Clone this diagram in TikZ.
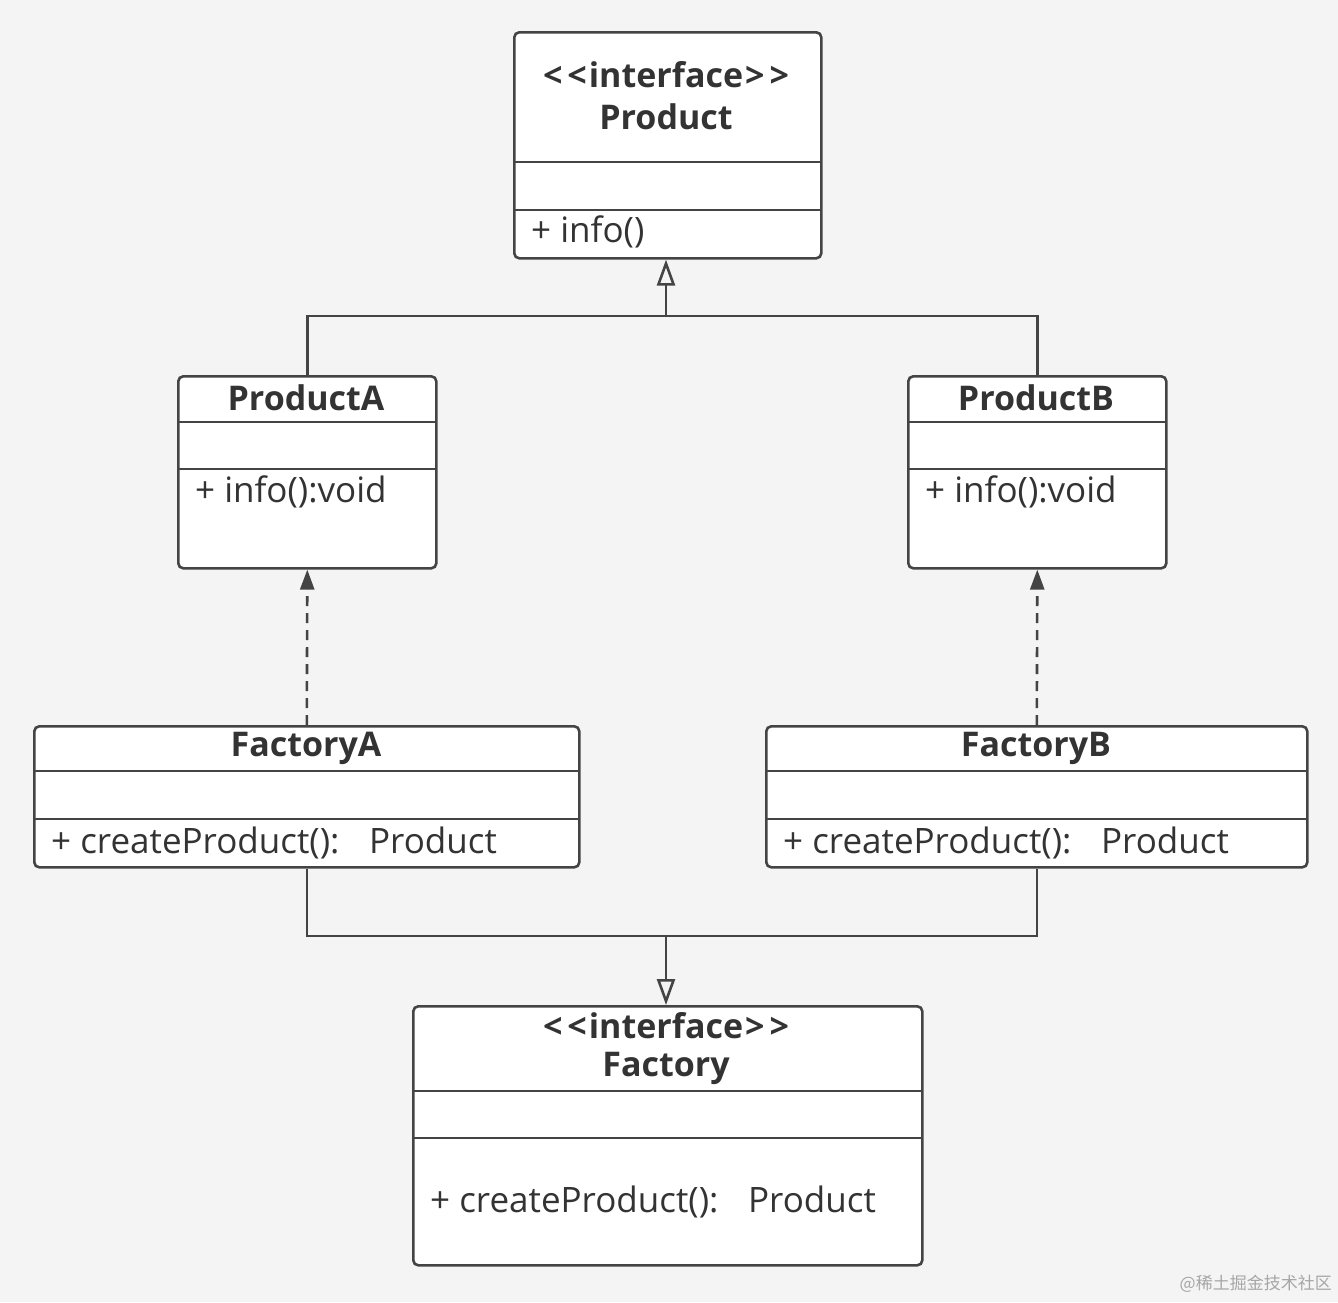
\documentclass[tikz,border=0pt]{standalone}
\usepackage{fontspec}
\setmainfont{Open Sans}
\newfontfamily\cjk{Noto Sans CJK SC}
\usetikzlibrary{arrows.meta,calc}
\definecolor{bg}{HTML}{F4F4F4}
\definecolor{ln}{HTML}{444444}
\definecolor{tx}{HTML}{333333}
\newcommand{\stereo}{{<}\kern5pt{<}\kern2pt interface\kern2pt{>}\kern5pt{>}}
\newcommand{\colgap}{:\hspace{0.85em}}
\tikzset{
  classbox/.style={draw=ln, line width=2.6pt, fill=white, rounded corners=5pt, anchor=north west, inner sep=0pt},
  divider/.style={draw=ln, line width=2.6pt},
  title/.style={text=tx, font=\fontsize{34}{40}\selectfont\bfseries, inner sep=0pt},
  member/.style={text=tx, font=\fontsize{35}{40}\selectfont, inner sep=0pt, anchor=west},
  conn/.style={draw=ln, line width=2.6pt},
  gen/.style={conn, -{Triangle[open, length=26pt, width=18pt, line width=2.6pt]}},
  real/.style={conn, dash pattern=on 10pt off 7pt, -{Triangle[length=20pt, width=14pt]}},
}
\begin{document}
\begin{tikzpicture}[x=1pt, y=-1pt]
\fill[bg] (0,0) rectangle (1338,1302);
\useasboundingbox (0,0) rectangle (1338,1302);

% Product interface
\node[classbox, minimum width=307pt, minimum height=226pt] (prod) at (513,31) {};
\draw[divider] (513,162) -- (820,162);
\draw[divider] (513,210) -- (820,210);
\node[title] (prodS) at (666,75) {\stereo};
\node[title] (prodT) at (666,117) {Product};
\node[member] (prodM) at (531,232) {+ info()};

% ProductA
\node[classbox, minimum width=258pt, minimum height=192pt] (pa) at (177,375) {};
\draw[divider] (177,422) -- (435,422);
\draw[divider] (177,469) -- (435,469);
\node[title] (paT) at (306,398) {ProductA};
\node[member] (paM) at (195,492) {+ info():void};

% ProductB
\node[classbox, minimum width=258pt, minimum height=192pt] (pb) at (907,375) {};
\draw[divider] (907,422) -- (1165,422);
\draw[divider] (907,469) -- (1165,469);
\node[title] (pbT) at (1036,398) {ProductB};
\node[member] (pbM) at (925,492) {+ info():void};

% FactoryA
\node[classbox, minimum width=545pt, minimum height=141pt] (fa) at (33,725) {};
\draw[divider] (33,771) -- (578,771);
\draw[divider] (33,819) -- (578,819);
\node[title] (faT) at (306,748) {FactoryA};
\node[member] (faM) at (51,843) {+ createProduct()\colgap Product};

% FactoryB
\node[classbox, minimum width=541pt, minimum height=141pt] (fb) at (765,725) {};
\draw[divider] (765,771) -- (1306,771);
\draw[divider] (765,819) -- (1306,819);
\node[title] (fbT) at (1036,748) {FactoryB};
\node[member] (fbM) at (783,843) {+ createProduct()\colgap Product};

% Factory interface
\node[classbox, minimum width=509pt, minimum height=259pt] (fac) at (412,1005) {};
\draw[divider] (412,1091) -- (921,1091);
\draw[divider] (412,1138) -- (921,1138);
\node[title] (facS) at (666,1026) {\stereo};
\node[title] (facT) at (666,1068) {Factory};
\node[member] (facM) at (430,1202) {+ createProduct()\colgap Product};

% connectors
\coordinate (j1) at (666,316);
\coordinate (j2) at (666,936);
\draw[conn] (pa.north) |- (j1) -| (pb.north);
\draw[gen] (j1) -- (j1 |- prod.south);
\draw[real] (fa.north) -- (pa.south);
\draw[real] (fb.north) -- (pb.south);
\draw[conn] (fa.south) |- (j2) -| (fb.south);
\draw[gen] (j2) -- (j2 |- fac.north);

% watermark
\node[text=gray!70, font=\cjk\fontsize{17}{20}\selectfont, anchor=east, inner sep=0pt] (wm) at (1332,1284) {@稀土掘金技术社区};
\end{tikzpicture}
\end{document}
